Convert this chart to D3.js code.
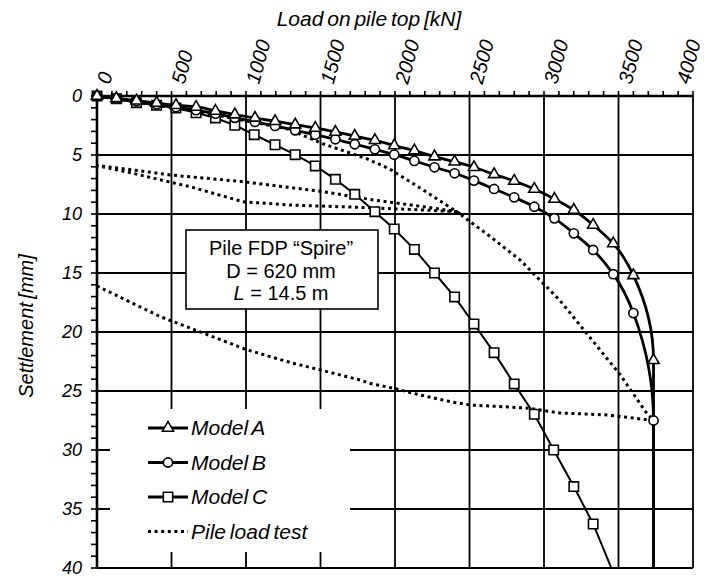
<!DOCTYPE html>
<html>
<head>
<meta charset="utf-8">
<title>Pile FDP load-settlement</title>
<script src="https://d3js.org/d3.v7.min.js"></script>
<style>
  body { margin: 0; background: #fff; }
  text { font-family: "Liberation Sans", Arial, sans-serif; fill: #000; }
</style>
</head>
<body>
<svg width="711" height="578"></svg>
<script>

// Load steps [kN] and settlements [mm]
var loadAB   = [0, 130, 265, 400, 530, 665, 795, 925, 1060, 1195, 1330, 1465, 1600, 1730, 1865, 1995,
                2130, 2265, 2400, 2530, 2665, 2800, 2935, 3070, 3200, 3330, 3465, 3600, 3735, 3735];
var settleA  = [0, 0.2, 0.4, 0.6, 0.78, 0.93, 1.27, 1.58, 1.86, 2.14, 2.43, 2.71, 3.05, 3.39, 3.75, 4.2,
                4.63, 5.14, 5.57, 6.04, 6.64, 7.2, 7.88, 8.73, 9.66, 10.93, 12.5, 15.2, 22.4, 42];
var settleB  = [0, 0.2, 0.45, 0.7, 0.95, 1.2, 1.5, 1.85, 2.2, 2.54, 2.91, 3.28, 3.67, 4.09, 4.52, 4.97,
                5.5, 6.04, 6.55, 7.17, 7.88, 8.59, 9.38, 10.37, 11.64, 13.05, 15.1, 18.4, 27.5, 42];

var loadC    = [0, 130, 265, 400, 530, 665, 795, 925, 1055, 1195, 1330, 1465, 1600, 1730, 1865, 1995,
                2130, 2265, 2400, 2530, 2665, 2800, 2935, 3065, 3200, 3330, 3465];
var settleC  = [0, 0.23, 0.57, 0.79, 1.02, 1.42, 1.86, 2.48, 3.28, 4.13, 4.97, 5.93, 7.06, 8.33, 9.8, 11.27,
                13.0, 15.0, 17.03, 19.32, 21.75, 24.4, 26.97, 30.0, 33.1, 36.27, 40.4];

// pile load test: loading, unloading, reloading, loading, unloading
var loadTest   = [0, 690, 1275, 1515, 1810, 1965, 2190, 2415,
                  2190, 1745, 1295, 980, 625, 240, 0,
                  245, 490, 980, 1520, 1855, 2190, 2415,
                  2640, 2840, 3105, 3285, 3510, 3690, 3735,
                  3425, 3105, 2905, 2725, 2505, 2370, 2170, 1990, 1830, 1765, 1495, 1315, 1005, 715, 425, 0];
var settleTest = [0, 1.36, 2.77, 4.04, 5.31, 6.19, 7.97, 9.81,
                  9.66, 9.43, 9.24, 8.96, 7.69, 6.55, 5.9,
                  6.27, 6.69, 7.26, 8.11, 8.81, 9.38, 9.81,
                  11.92, 13.9, 17.3, 20.1, 23.6, 26.9, 27.5,
                  27.03, 26.86, 26.47, 26.33, 26.19, 25.9, 25.34, 24.77, 24.35, 24.07, 23.2, 22.65, 21.5, 20.1, 18.7, 16.1];

var xTicks = [0, 500, 1000, 1500, 2000, 2500, 3000, 3500, 4000];
var yTicks = [0, 5, 10, 15, 20, 25, 30, 35, 40];

var legendNames = ["Model A", "Model B", "Model C", "Pile load test"];
var boxLines = ["Pile FDP \u201cSpire\u201d", "D = 620 mm", "L = 14.5 m"];

var svg = d3.select("svg");
svg.append("rect").attr("width", 711).attr("height", 578).attr("fill", "#fff");

var x = d3.scaleLinear().domain([0, 4000]).range([97, 693]);
var y = d3.scaleLinear().domain([0, 40]).range([96, 568]);

function pairs(xs, ys) { return xs.map(function(v, i) { return [v, ys[i]]; }); }
var dataA = pairs(loadAB, settleA), dataB = pairs(loadAB, settleB),
    dataC = pairs(loadC, settleC), dataT = pairs(loadTest, settleTest);

// minor ticks (outside), then grid
svg.append("g")
    .selectAll("line").data(d3.range(0, 4001, 100)).join("line")
    .attr("x1", function(d) { return x(d); }).attr("x2", function(d) { return x(d); })
    .attr("y1", y(0)).attr("y2", y(0) - 5)
    .attr("stroke", "#000").attr("stroke-width", 1.6);
svg.append("g")
    .selectAll("line").data(d3.range(0, 41, 1)).join("line")
    .attr("y1", function(d) { return y(d); }).attr("y2", function(d) { return y(d); })
    .attr("x1", x(0)).attr("x2", x(0) - 6)
    .attr("stroke", "#000").attr("stroke-width", 1.6);

var grid = svg.append("g").attr("stroke", "#000").attr("stroke-width", 1.8);
grid.selectAll(".gx").data(xTicks.slice(1)).join("line")
    .attr("x1", function(d) { return x(d); }).attr("x2", function(d) { return x(d); })
    .attr("y1", y(0)).attr("y2", y(40));
grid.selectAll(".gy").data(yTicks.slice(1)).join("line")
    .attr("y1", function(d) { return y(d); }).attr("y2", function(d) { return y(d); })
    .attr("x1", x(0)).attr("x2", x(4000));

svg.append("line").attr("x1", x(0)).attr("x2", x(0)).attr("y1", y(0) - 1).attr("y2", y(40))
    .attr("stroke", "#000").attr("stroke-width", 2.6);
svg.append("line").attr("x1", x(0)).attr("x2", x(4000)).attr("y1", y(0)).attr("y2", y(0))
    .attr("stroke", "#000").attr("stroke-width", 2.6);

// tick labels (top ones rotated; the last one is pulled in so it stays on the page)
var cosA = Math.cos(75 * Math.PI / 180);
svg.append("g").selectAll("text").data(xTicks).join("text")
    .attr("font-size", 20).attr("font-style", "italic")
    .text(function(d) { return d; })
    .attr("transform", function(d) {
      var w = this.getComputedTextLength();
      var sx = Math.min(x(d) + 13, 701 - w * cosA);
      return "translate(" + sx + ",85) rotate(-75)";
    });
svg.append("g").selectAll("text").data(yTicks).join("text")
    .attr("x", 82).attr("y", function(d) { return y(d) + 6; })
    .attr("text-anchor", "end").attr("font-size", 18).attr("font-style", "italic")
    .text(function(d) { return d; });

// axis titles
svg.append("text").attr("x", 369).attr("y", 26).attr("text-anchor", "middle")
    .attr("font-size", 21).attr("font-style", "italic").attr("word-spacing", -2)
    .text("Load on pile top [kN]");
svg.append("text").attr("transform", "translate(33,326) rotate(-90)").attr("text-anchor", "middle")
    .attr("font-size", 20).attr("font-style", "italic").attr("word-spacing", -2)
    .text("Settlement [mm]");

// data, clipped at the bottom edge
svg.append("clipPath").attr("id", "clip")
  .append("rect").attr("x", 0).attr("y", 0).attr("width", 711).attr("height", y(40));
var plot = svg.append("g").attr("clip-path", "url(#clip)");

var straight = d3.line().x(function(d) { return x(d[0]); }).y(function(d) { return y(d[1]); });
var smooth = d3.line().x(function(d) { return x(d[0]); }).y(function(d) { return y(d[1]); })
    .curve(d3.curveMonotoneY);

plot.append("path").datum(dataT).attr("d", straight)
    .attr("fill", "none").attr("stroke", "#000").attr("stroke-width", 3)
    .attr("stroke-dasharray", "3,3.6");
plot.append("path").datum(dataC).attr("d", straight)
    .attr("fill", "none").attr("stroke", "#000").attr("stroke-width", 2);
plot.append("path").datum(dataB).attr("d", smooth)
    .attr("fill", "none").attr("stroke", "#000").attr("stroke-width", 2.8);
plot.append("path").datum(dataA).attr("d", smooth)
    .attr("fill", "none").attr("stroke", "#000").attr("stroke-width", 2.8);

var triangle = d3.symbol().type(d3.symbolTriangle).size(54);
var circle = d3.symbol().type(d3.symbolCircle).size(66);
var square = d3.symbol().type(d3.symbolSquare).size(88);

function markers(data, sym) {
  plot.append("g").selectAll("path").data(data).join("path")
      .attr("transform", function(d) { return "translate(" + x(d[0]) + "," + y(d[1]) + ")"; })
      .attr("d", sym).attr("fill", "#fff").attr("stroke", "#000").attr("stroke-width", 1.6);
}
markers(dataC, square);
markers(dataB, circle);
markers(dataA, triangle);

// annotation box
svg.append("rect").attr("x", 186).attr("y", 230).attr("width", 192).attr("height", 79)
    .attr("fill", "#fff").attr("stroke", "#000").attr("stroke-width", 1.6);
var note = svg.append("text").attr("text-anchor", "middle").attr("font-size", 20);
note.append("tspan").attr("x", 281).attr("y", 255).text(boxLines[0]);
note.append("tspan").attr("x", 281).attr("y", 278).text(boxLines[1]);
var l3 = note.append("tspan").attr("x", 281).attr("y", 300);
l3.append("tspan").attr("font-style", "italic").text(boxLines[2].slice(0, 1));
l3.append("tspan").text(boxLines[2].slice(1));

// legend
svg.append("rect").attr("x", 110).attr("y", 409).attr("width", 240).attr("height", 143).attr("fill", "#fff");
var legSyms = [triangle, circle, square, null];
var leg = svg.append("g").selectAll("g").data(legendNames).join("g")
    .attr("transform", function(d, i) { return "translate(0," + (428 + i * 34.5) + ")"; });
leg.append("line").attr("x1", 148).attr("x2", 188).attr("y1", 0).attr("y2", 0)
    .attr("stroke", "#000").attr("stroke-width", 3)
    .attr("stroke-dasharray", function(d, i) { return i === 3 ? "3,3.6" : null; });
leg.filter(function(d, i) { return legSyms[i]; }).append("path")
    .attr("transform", "translate(168,0)")
    .attr("d", function(d) { return legSyms[legendNames.indexOf(d)](); })
    .attr("fill", "#fff").attr("stroke", "#000").attr("stroke-width", 1.6);
leg.append("text").attr("x", 191).attr("y", 7)
    .attr("font-size", 21).attr("font-style", "italic").attr("word-spacing", -2)
    .text(function(d) { return d; });

</script>
</body>
</html>
